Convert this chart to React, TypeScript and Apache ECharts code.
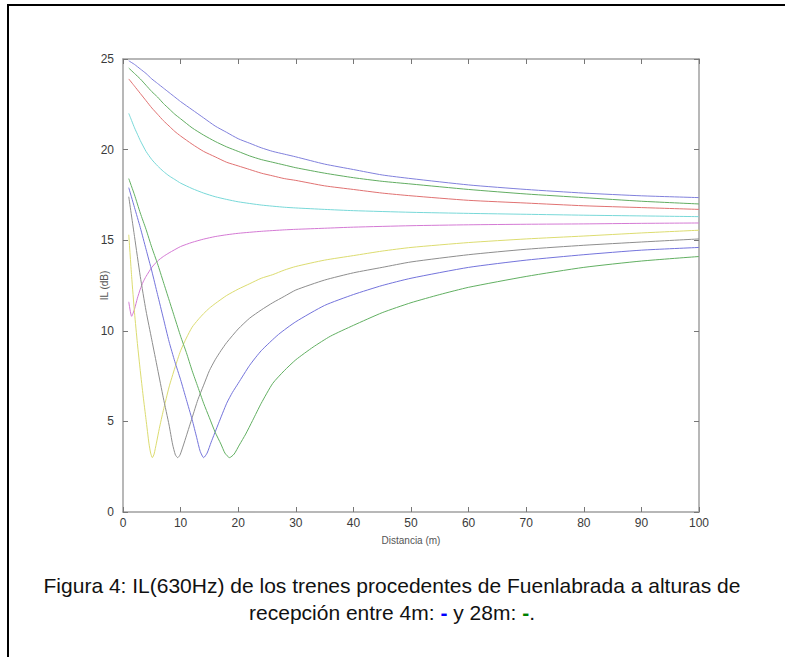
import React, { useEffect, useRef } from "react";
import * as echarts from "echarts";

// Distance (m) vs IL (dB) for reception heights 4 m ... 28 m
const h4m: [number, number][] = [[1,24.9],[2,24.7],[3,24.45],[4,24.2],[5,23.9],[6,23.65],[7,23.4],[8,23.15],[9,22.9],[10,22.65],[12,22.2],[14,21.75],[16,21.3],[18,20.95],[20,20.6],[22,20.35],[24,20.1],[26,19.9],[28,19.75],[30,19.6],[35,19.2],[40,18.9],[45,18.6],[50,18.4],[60,18.05],[70,17.8],[80,17.6],[90,17.45],[100,17.35]];
const h7m: [number, number][] = [[1,24.5],[2,24.2],[3,23.9],[4,23.55],[5,23.2],[6,22.9],[7,22.55],[8,22.25],[9,21.95],[10,21.7],[12,21.2],[14,20.8],[16,20.45],[18,20.15],[20,19.9],[22,19.65],[24,19.45],[26,19.3],[28,19.15],[30,19.0],[35,18.7],[40,18.45],[45,18.25],[50,18.1],[60,17.8],[70,17.55],[80,17.35],[90,17.15],[100,17.0]];
const h10m: [number, number][] = [[1,23.9],[2,23.5],[3,23.1],[4,22.7],[5,22.3],[6,21.95],[7,21.6],[8,21.3],[9,21.0],[10,20.75],[12,20.3],[14,19.9],[16,19.6],[18,19.3],[20,19.1],[22,18.9],[24,18.7],[26,18.55],[28,18.4],[30,18.3],[35,18.0],[40,17.8],[45,17.6],[50,17.45],[60,17.2],[70,17.05],[80,16.9],[90,16.8],[100,16.7]];
const h13m: [number, number][] = [[1,22.0],[1.5,21.6],[2,21.2],[2.5,20.85],[3,20.5],[4,19.9],[5,19.45],[6,19.1],[7,18.8],[8,18.55],[9,18.35],[10,18.15],[12,17.85],[14,17.6],[16,17.4],[18,17.25],[20,17.12],[24,16.94],[28,16.82],[30,16.78],[35,16.7],[40,16.63],[50,16.54],[60,16.48],[70,16.43],[80,16.38],[90,16.34],[100,16.3]];
const h16m: [number, number][] = [[1,11.6],[1.5,10.8],[2,11.2],[2.5,11.8],[3,12.3],[3.5,12.7],[4,13.0],[5,13.5],[6,13.85],[7,14.1],[8,14.3],[10,14.65],[12,14.88],[14,15.06],[16,15.2],[18,15.3],[20,15.38],[24,15.49],[28,15.57],[30,15.6],[35,15.66],[40,15.72],[50,15.8],[60,15.85],[70,15.88],[80,15.9],[90,15.93],[100,15.95]];
const h19m: [number, number][] = [[1,15.3],[1.5,13.0],[2,11.0],[2.5,9.3],[3,7.8],[3.5,6.4],[4,5.1],[4.5,3.8],[4.8,3.25],[5.1,3.0],[5.4,3.2],[5.8,3.8],[6.3,4.6],[7,5.6],[8,6.9],[9,7.95],[10,8.9],[11,9.6],[12,10.2],[13,10.6],[14,10.95],[15,11.25],[16,11.5],[18,11.95],[20,12.3],[22,12.6],[24,12.9],[26,13.1],[28,13.35],[30,13.55],[35,13.9],[40,14.15],[45,14.4],[50,14.6],[60,14.87],[70,15.07],[80,15.23],[90,15.4],[100,15.55]];
const h22m: [number, number][] = [[1,17.4],[2,15.2],[3,13.0],[4,11.1],[5,9.5],[6,7.9],[7,6.3],[8,4.8],[8.6,3.75],[9.1,3.15],[9.5,3.0],[9.9,3.15],[10.5,3.7],[11,4.2],[12,5.2],[13,6.2],[14,7.0],[15,7.8],[16,8.4],[17,8.9],[18,9.35],[20,10.1],[22,10.7],[24,11.15],[26,11.55],[28,11.9],[30,12.25],[35,12.8],[40,13.2],[45,13.5],[50,13.8],[60,14.2],[70,14.5],[80,14.72],[90,14.9],[100,15.07]];
const h25m: [number, number][] = [[1,17.9],[2,16.8],[3,15.7],[4,14.5],[5,13.3],[6,12.0],[7,10.7],[8,9.4],[9,8.3],[10,7.3],[11,6.2],[12,5.1],[12.8,4.1],[13.4,3.35],[14,3.0],[14.6,3.25],[15.3,3.85],[16.6,4.9],[18,6.0],[19,6.6],[20,7.1],[22,8.1],[24,8.9],[27,9.8],[30,10.5],[35,11.4],[40,12.0],[45,12.5],[50,12.9],[60,13.5],[70,13.9],[80,14.2],[90,14.45],[100,14.6]];
const h28m: [number, number][] = [[1,18.4],[2,17.5],[3,16.5],[4,15.6],[5,14.6],[6,13.7],[7,12.7],[8,11.7],[9,10.7],[10,9.7],[11,8.8],[12,7.8],[13,6.9],[14,6.0],[15,5.2],[16,4.4],[17,3.75],[17.7,3.25],[18.5,3.0],[19.3,3.2],[20.2,3.7],[21.3,4.3],[22.5,5.05],[24,6.0],[26,7.1],[28,7.8],[30,8.4],[33,9.1],[36,9.7],[40,10.3],[45,11.0],[50,11.55],[55,12.0],[60,12.4],[70,13.0],[80,13.5],[90,13.85],[100,14.1]];

const seriesData = [h4m, h7m, h10m, h13m, h16m, h19m, h22m, h25m, h28m];
const seriesNames = ["4m", "7m", "10m", "13m", "16m", "19m", "22m", "25m", "28m"];
const seriesColors = ["#8080dc", "#62ad62", "#e07272", "#78d8d8", "#d47ad4", "#dcdc70", "#8e8e8e", "#7474dc", "#62b062"];

const xTicks = { min: 0, max: 100, interval: 10 };
const yTicks = { min: 0, max: 25, interval: 5 };

const captionLine1 = "Figura 4: IL(630Hz) de los trenes procedentes de Fuenlabrada a alturas de";
const captionLine2a = "recepción entre 4m: ";
const captionLine2b = " y 28m: ";

const FONT = "'Liberation Sans', Arial, sans-serif";

export default function App() {
  const ref = useRef<HTMLDivElement>(null);
  useEffect(() => {
    if (!ref.current) return;
    const chart = echarts.init(ref.current, null, { renderer: "svg" });
    const axisLine = { show: true, onZero: false, lineStyle: { color: "#a0a0a0", width: 1.5 } };
    const axisTick = { show: true, inside: true, length: 5, lineStyle: { color: "#777", width: 1 } };
    const labelStyle = { color: "#3a3a3a", fontSize: 12, fontFamily: FONT };
    chart.setOption({
      animation: false,
      backgroundColor: "#fff",
      grid: { left: 123, top: 59, right: 86, bottom: 145, containLabel: false },
      xAxis: [
        {
          type: "value", ...xTicks, position: "bottom", axisLine, axisTick,
          axisLabel: { ...labelStyle, margin: 5 }, splitLine: { show: false },
          name: "Distancia (m)", nameLocation: "middle", nameGap: 23, nameMoveOverlap: false,
          nameTextStyle: { color: "#555", fontSize: 10, fontFamily: FONT },
        },
        {
          type: "value", ...xTicks, position: "top", axisLine, axisTick,
          axisLabel: { show: false }, splitLine: { show: false },
        },
      ],
      yAxis: [
        {
          type: "value", ...yTicks, position: "left", axisLine, axisTick,
          axisLabel: { ...labelStyle, margin: 9 }, splitLine: { show: false },
          name: "IL (dB)", nameLocation: "middle", nameGap: 14, nameRotate: 90, nameMoveOverlap: false,
          nameTextStyle: { color: "#555", fontSize: 10, fontFamily: FONT },
        },
        {
          type: "value", ...yTicks, position: "right", axisLine, axisTick,
          axisLabel: { show: false }, splitLine: { show: false },
        },
      ],
      series: seriesData.map((d, i) => ({
        name: seriesNames[i],
        type: "line",
        data: d,
        xAxisIndex: 0,
        yAxisIndex: 0,
        showSymbol: false,
        smooth: 0.2,
        lineStyle: { color: seriesColors[i], width: 1 },
        itemStyle: { color: seriesColors[i] },
      })),
      graphic: [
        {
          type: "polyline",
          shape: { points: [[8, 657], [8, 5], [785, 5]] },
          style: { stroke: "#000", lineWidth: 2, fill: null },
        },
        {
          type: "text",
          x: 392,
          y: 585,
          style: {
            text: captionLine1,
            fill: "#111",
            font: `21px ${FONT}`,
            align: "center",
            verticalAlign: "middle",
          },
        },
        {
          type: "text",
          x: 392,
          y: 612,
          style: {
            text: `{t|${captionLine2a}}{b|-}{t|${captionLine2b}}{g|-}{t|.}`,
            align: "center",
            verticalAlign: "middle",
            rich: {
              t: { fill: "#111", fontSize: 21, fontFamily: FONT },
              b: { fill: "#0000ff", fontSize: 21, fontWeight: "bold", fontFamily: FONT },
              g: { fill: "#008000", fontSize: 21, fontWeight: "bold", fontFamily: FONT },
            },
          },
        },
      ],
    });
    return () => chart.dispose();
  }, []);
  return <div ref={ref} style={{ position: "fixed", left: 0, top: 0, width: 785, height: 657 }} />;
}
